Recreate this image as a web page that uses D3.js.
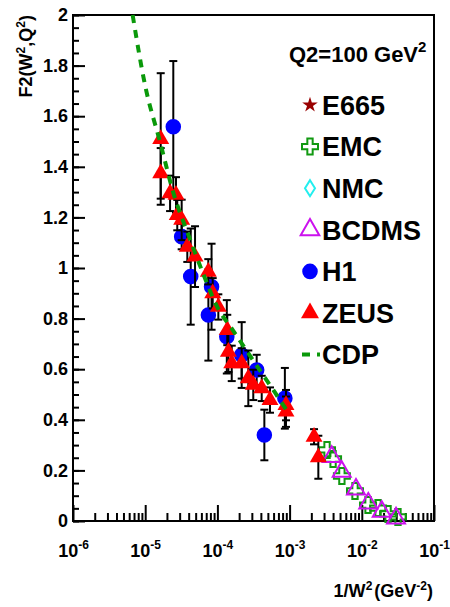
<!DOCTYPE html>
<html>
<head>
<meta charset="utf-8">
<script src="https://cdn.jsdelivr.net/npm/d3@7"></script>
<style>
body { margin: 0; background: #fff; }
text { font-family: "Liberation Sans", Arial, Helvetica, sans-serif; font-weight: bold; }
</style>
</head>
<body>
<div class="container"></div>
<script>
// tick values and labels
var yTicks = [0, 0.2, 0.4, 0.6, 0.8, 1, 1.2, 1.4, 1.6, 1.8, 2];
var yTickLabels = ["0", "0.2", "0.4", "0.6", "0.8", "1", "1.2", "1.4", "1.6", "1.8", "2"];
var xTicks = [1e-6, 1e-5, 1e-4, 1e-3, 1e-2, 1e-1];
var xTickExp = ["-6", "-5", "-4", "-3", "-2", "-1"];

// H1 (blue circles)
var h1X = [2.45e-5, 3.2e-5, 4.27e-5, 7.5e-5, 8.3e-5, 1.35e-4, 2.17e-4, 3.5e-4, 4.47e-4, 8.6e-4];
var h1Y = [1.558, 1.124, 0.966, 0.814, 0.926, 0.728, 0.656, 0.597, 0.340, 0.485];
var h1Err = [0.26, 0.05, 0.19, 0.18, 0.17, 0.145, 0.13, 0.06, 0.10, 0.12];

// ZEUS (red triangles)
var zeusX = [1.64e-5, 1.64e-5, 2.21e-5, 2.67e-5, 2.78e-5, 3.2e-5, 3.83e-5, 4.9e-5, 7.48e-5, 8.61e-5, 1.03e-4,
	1.37e-4, 1.42e-4, 1.58e-4, 2.17e-4, 2.68e-4, 3.14e-4, 4.11e-4, 5.35e-4, 8.91e-4, 8.91e-4, 2.18e-3, 2.5e-3];
var zeusY = [1.51, 1.374, 1.295, 1.289, 1.209, 1.19, 1.084, 1.045, 0.985, 0.90, 0.846,
	0.755, 0.669, 0.623, 0.623, 0.564, 0.538, 0.524, 0.478, 0.458, 0.432, 0.333, 0.252];
var zeusErr = [0.26, 0.10, 0.07, 0.07, 0.06, 0.08, 0.06, 0.12, 0.05, 0.06, 0.05,
	0.06, 0.08, 0.07, 0.06, 0.11, 0.06, 0.05, 0.05, 0.06, 0.06, 0.03, 0.085];

// EMC (green open crosses)
var emcX = [3.3e-3, 4.0e-3, 5.3e-3, 8.05e-3, 1.22e-2, 1.68e-2, 2.31e-2, 3.17e-2];
var emcY = [0.281, 0.245, 0.178, 0.119, 0.063, 0.051, 0.028, 0.016];

// BCDMS (magenta open triangles)
var bcdmsX = [3.83e-3, 5.27e-3, 8.31e-3, 1.23e-2, 1.89e-2, 2.98e-2];
var bcdmsY = [0.254, 0.195, 0.125, 0.070, 0.037, 0.011];

// CDP model curve
var cdpX = [6.7e-6, 1e-5, 1.6e-5, 2.5e-5, 4e-5, 6.3e-5, 1e-4, 1.6e-4, 2.5e-4, 4e-4, 6.3e-4, 9.5e-4];
var cdpY = [2.0, 1.72, 1.50, 1.29, 1.128, 0.98, 0.845, 0.758, 0.676, 0.59, 0.507, 0.43];

var legendNames = ["E665", "EMC", "NMC", "BCDMS", "H1", "ZEUS", "CDP"];

var cRed = "#ff0000", cBlue = "#0000ff", cGreen = "#119911", cViolet = "#cc11ee",
	cCyan = "#22eeee", cStar = "#990000", cCdp = "#0a990a";

var svg = d3.select('.container').append("svg")
	.attr("width", 450)
	.attr("height", 607);

var x = d3.scaleLog().domain([1e-6, 1e-1]).range([73, 434]);
var y = d3.scaleLinear().domain([0, 2]).range([521, 15]);

function zip (xs, ys, es) {
	return xs.map(function (d, i) {
		return {x: d, y: ys[i], e: es ? es[i] : 0};
	});
}

// frame
svg.append("rect")
	.attr("x", 73).attr("y", 15)
	.attr("width", 361).attr("height", 506)
	.attr("fill", "none")
	.attr("stroke", "#000")
	.attr("stroke-width", 2);

// y axis, ticks pointing inward
var yMinor = d3.range(0, 2.001, 0.05);
svg.append("g")
	.attr("transform", "translate(73,0)")
	.call(d3.axisLeft(y).tickValues(yMinor).tickSize(-6).tickFormat(""))
	.call(function (g) { g.select(".domain").remove(); });

var yAxis = svg.append("g")
	.attr("transform", "translate(73,0)")
	.call(d3.axisLeft(y).tickValues(yTicks).tickSize(-12).tickPadding(5)
		.tickFormat(function (d) { return yTickLabels[yTicks.indexOf(d)]; }));
yAxis.select(".domain").remove();
yAxis.attr("font-size", 18);

// x axis, log with minor ticks
var xMinor = [];
xTicks.slice(0, -1).forEach(function (t) {
	for (var k = 2; k < 10; k++) xMinor.push(t * k);
});
svg.append("g")
	.attr("transform", "translate(0,521)")
	.call(d3.axisBottom(x).tickValues(xMinor).tickSize(-8).tickFormat(""))
	.call(function (g) { g.select(".domain").remove(); });

var xAxis = svg.append("g")
	.attr("transform", "translate(0,521)")
	.call(d3.axisBottom(x).tickValues(xTicks).tickSize(-16).tickFormat(""));
xAxis.select(".domain").remove();
xAxis.attr("font-size", 18);
xAxis.selectAll(".tick text").each(function (d, i) {
	var t = d3.select(this)
		.attr("y", 36).attr("dy", 0)
		.attr("text-anchor", "middle");
	t.append("tspan").text("10");
	t.append("tspan").attr("dy", -8).attr("font-size", 12).text(xTickExp[xTicks.indexOf(d)]);
});

svg.selectAll(".tick line").attr("stroke-width", 2);

// axis titles
var xt = svg.append("text")
	.attr("x", 433).attr("y", 597)
	.attr("text-anchor", "end")
	.attr("font-size", 18);
xt.append("tspan").text("1/W");
xt.append("tspan").attr("dy", -7).attr("font-size", 12).text("2");
xt.append("tspan").attr("dy", 7).attr("dx", 2).text("(GeV");
xt.append("tspan").attr("dy", -7).attr("font-size", 12).text("-2");
xt.append("tspan").attr("dy", 7).text(")");

var yt = svg.append("text")
	.attr("transform", "translate(32,15) rotate(-90)")
	.attr("text-anchor", "end")
	.attr("font-size", 18);
yt.append("tspan").text("F2(W");
yt.append("tspan").attr("dy", -7).attr("font-size", 12).text("2");
yt.append("tspan").attr("dy", 7).text(",Q");
yt.append("tspan").attr("dy", -7).attr("font-size", 12).text("2");
yt.append("tspan").attr("dy", 7).text(")");

// error bars with caps
function errorBars (data) {
	var g = svg.append("g").attr("stroke", "#000").attr("stroke-width", 2);
	var eb = g.selectAll("g").data(data).enter().append("g");
	eb.append("line")
		.attr("x1", function (d) { return x(d.x); })
		.attr("x2", function (d) { return x(d.x); })
		.attr("y1", function (d) { return y(d.y - d.e); })
		.attr("y2", function (d) { return y(d.y + d.e); });
	[-1, 1].forEach(function (s) {
		eb.append("line")
			.attr("x1", function (d) { return x(d.x) - 4; })
			.attr("x2", function (d) { return x(d.x) + 4; })
			.attr("y1", function (d) { return y(d.y + s * d.e); })
			.attr("y2", function (d) { return y(d.y + s * d.e); });
	});
}

function markers (data, type, size, fill, stroke) {
	svg.append("g").selectAll("path")
		.data(data)
		.enter()
		.append("path")
			.attr("transform", function (d) { return "translate(" + x(d.x) + "," + y(d.y) + ")"; })
			.attr("d", d3.symbol().type(type).size(size))
			.attr("fill", fill)
			.attr("stroke", stroke || "none")
			.attr("stroke-width", 2);
}

var h1 = zip(h1X, h1Y, h1Err);
var zeus = zip(zeusX, zeusY, zeusErr);

markers(zip(emcX, emcY), d3.symbolCross, 142, "none", cGreen);
markers(zip(bcdmsX, bcdmsY), d3.symbolTriangle, 140, "none", cViolet);
errorBars(h1);
markers(h1, d3.symbolCircle, 190, cBlue);
errorBars(zeus);
markers(zeus, d3.symbolTriangle, 125, cRed);

// CDP curve on top
svg.append("path")
	.datum(zip(cdpX, cdpY))
	.attr("fill", "none")
	.attr("stroke", cCdp)
	.attr("stroke-width", 4)
	.attr("stroke-dasharray", "8,7")
	.attr("d", d3.line()
		.x(function (d) { return x(d.x); })
		.y(function (d) { return y(d.y); })
		.curve(d3.curveMonotoneX));

// header text
var q = svg.append("text")
	.attr("x", 289).attr("y", 62)
	.attr("font-size", 22);
q.append("tspan").text("Q2=100 GeV");
q.append("tspan").attr("dy", -10).attr("font-size", 15).text("2");

// legend
var lx = 310, ly0 = 105, lstep = 41.6;
var leg = svg.append("g");
legendNames.forEach(function (name, i) {
	var cy = ly0 + i * lstep;
	var m = leg.append("g").attr("transform", "translate(" + lx + "," + cy + ")");
	if (name === "E665") {
		m.append("path").attr("d", d3.symbol().type(d3.symbolStar).size(75)).attr("fill", cStar);
	} else if (name === "EMC") {
		m.append("path").attr("d", d3.symbol().type(d3.symbolCross).size(142))
			.attr("fill", "none").attr("stroke", cGreen).attr("stroke-width", 2);
	} else if (name === "NMC") {
		m.append("path").attr("d", "M0,-8L5,0L0,8L-5,0Z")
			.attr("fill", "none").attr("stroke", cCyan).attr("stroke-width", 2);
	} else if (name === "BCDMS") {
		m.append("path").attr("d", d3.symbol().type(d3.symbolTriangle).size(150))
			.attr("fill", "none").attr("stroke", cViolet).attr("stroke-width", 2);
	} else if (name === "H1") {
		m.append("path").attr("d", d3.symbol().type(d3.symbolCircle).size(190)).attr("fill", cBlue);
	} else if (name === "ZEUS") {
		m.append("path").attr("d", d3.symbol().type(d3.symbolTriangle).size(140)).attr("fill", cRed);
	} else {
		m.append("line").attr("x1", -8).attr("x2", 10)
			.attr("stroke", cCdp).attr("stroke-width", 4).attr("stroke-dasharray", "8,7");
	}
	leg.append("text")
		.attr("x", 322).attr("y", cy)
		.attr("dy", "0.36em")
		.attr("font-size", 27)
		.text(name);
});
</script>
</body>
</html>
